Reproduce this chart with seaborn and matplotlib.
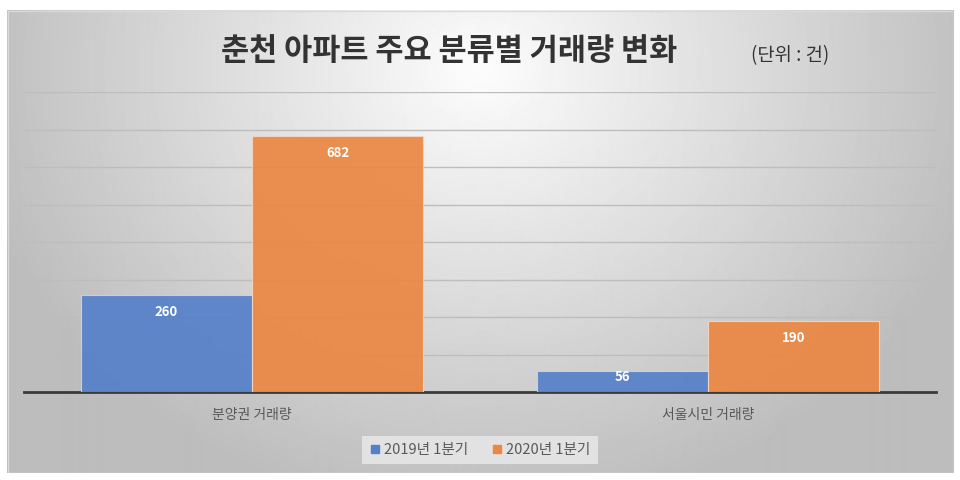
import numpy as np
import pandas as pd
import seaborn as sns
import matplotlib.pyplot as plt
from matplotlib.lines import Line2D

# data
categories = ['분양권 거래량', '서울시민 거래량']
periods = ['2019년 1분기', '2020년 1분기']
vals_2019 = [260, 56]
vals_2020 = [682, 190]
colors = ['#5580C8', '#EB8743']

df = pd.DataFrame({
    'category': categories * 2,
    'period': [periods[0]] * 2 + [periods[1]] * 2,
    'value': vals_2019 + vals_2020,
})

sns.set_style('white')
plt.rcParams['font.family'] = ['Noto Sans CJK KR', 'DejaVu Sans']

fig = plt.figure(figsize=(9.6, 4.8), dpi=100)

# radial gray gradient background box
bg = fig.add_axes([7/960, 1 - 473/480, 946/960, 463/480])
yy, xx = np.mgrid[0:463, 0:946]
d = np.sqrt(((xx - 473) / 560.0) ** 2 + ((yy - 60) / 480.0) ** 2)
shade = np.clip(0.99 - 0.27 * d, 0.74, 1.0)
bg.imshow(shade, cmap='gray', vmin=0, vmax=1, aspect='auto', interpolation='bilinear')
bg.set_axis_off()
bg.add_patch(plt.Rectangle((0, 0), 945, 462, fill=False, ec='#d9d9d9', lw=1))

ax = fig.add_axes([24/960, 1 - 392/480, 912/960, 300/480])
ax.patch.set_alpha(0)
sns.barplot(data=df, x='category', y='value', hue='period', palette=colors,
            saturation=1, width=0.75, alpha=0.92, ax=ax, legend=False, zorder=3)
for i, cont in enumerate(ax.containers):
    for p in cont:
        p.set_edgecolor('#f3d7c4' if i == 1 else '#c8d4ee')
        p.set_linewidth(0.8)
        h = p.get_height()
        off = -17 if h > 100 else -6
        ax.annotate(f'{int(h)}', xy=(p.get_x() + p.get_width() / 2, h),
                    xytext=(0, off), textcoords='offset pixels',
                    ha='center', va='center', color='white',
                    fontweight='bold', fontsize=9.5, zorder=5)

ax.set_ylim(0, 800)
ax.set_xlim(-0.5, 1.5)
ax.set_yticks(range(100, 801, 100))
ax.yaxis.grid(True, color='#bdbdbd', lw=1)
ax.set_axisbelow(True)
ax.tick_params(axis='y', left=False, labelleft=False)
ax.tick_params(axis='x', bottom=False, pad=8, labelsize=10, labelcolor='#595959')
ax.set_xlabel('')
ax.set_ylabel('')
for s in ['left', 'right', 'top']:
    ax.spines[s].set_visible(False)
ax.spines['bottom'].set_color('#3a3a3a')
ax.spines['bottom'].set_linewidth(2)

fig.text(449/960, 1 - 51/480, '춘천 아파트 주요 분류별 거래량 변화', ha='center', va='center',
         fontsize=22, fontweight='bold', color='#333333')
fig.text(790/960, 1 - 56/480, '(단위 : 건)', ha='center', va='center',
         fontsize=13.5, color='#333333')

handles = [Line2D([], [], marker='s', ls='', color=c, markersize=6) for c in colors]
leg = fig.legend(handles, periods, loc='center', bbox_to_anchor=(480/960, 1 - 450/480),
                 ncol=2, frameon=True, fontsize=10.5, labelcolor='#595959',
                 handletextpad=0.2, columnspacing=1.6, handlelength=0.8,
                 borderpad=0.5, fancybox=False)
leg.get_frame().set_facecolor('#e2e2e2')
leg.get_frame().set_edgecolor('none')
leg.get_frame().set_alpha(1)

fig.savefig('out.png', dpi=100)
